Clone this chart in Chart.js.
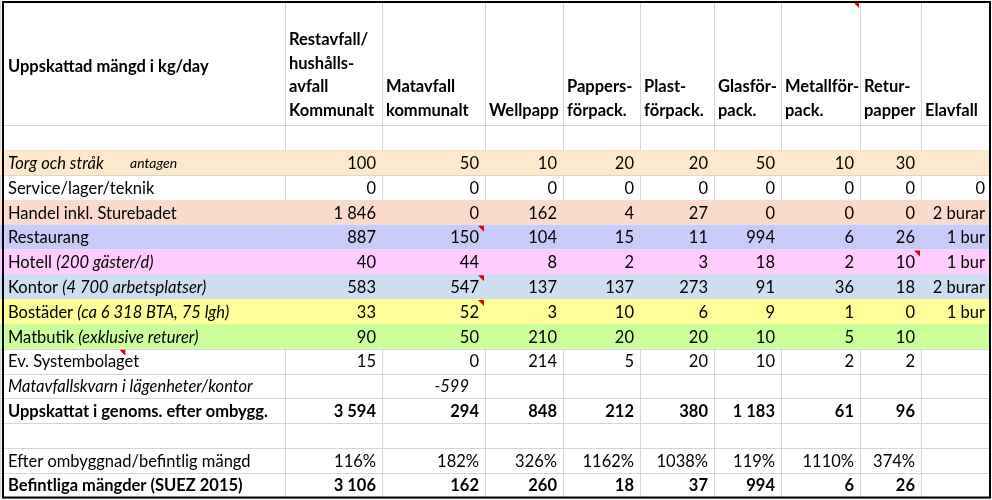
<!DOCTYPE html>
<html><head><meta charset="utf-8">
<script src="https://cdn.jsdelivr.net/npm/chart.js@4/dist/chart.umd.min.js"></script>
<style>html,body{margin:0;padding:0;background:#fff}</style>
</head><body>
<canvas id="c" width="992" height="500"></canvas>
<script>
// ---- data ----
const headerTitle = "Uppskattad mängd i kg/day";
const columns = [
  ["Restavfall/","hushålls-","avfall","Kommunalt"],
  ["Matavfall","kommunalt"],
  ["Wellpapp"],
  ["Pappers-","förpack."],
  ["Plast-","förpack."],
  ["Glasför-","pack."],
  ["Metallför-","pack."],
  ["Retur-","papper"],
  ["Elavfall"]
];
const rowLabels = [
  "", "Torg och stråk", "Service/lager/teknik", "Handel inkl. Sturebadet", "Restaurang",
  "Hotell", "Kontor", "Bostäder", "Matbutik", "Ev. Systembolaget",
  "Matavfallskvarn i lägenheter/kontor", "Uppskattat i genoms. efter ombygg.", "",
  "Efter ombyggnad/befintlig mängd", "Befintliga mängder (SUEZ 2015)"
];
const rowNotes = ["", "antagen", "", "", "", "(200 gäster/d)", "(4 700 arbetsplatser)",
  "(ca 6 318 BTA, 75 lgh)", "(exklusive returer)", "", "", "", "", "", ""];
const restavfall = [null,100,0,1846,887,40,583,33,90,15,null,3594,null,116,3106];
const matavfall  = [null,50,0,0,150,44,547,52,50,0,-599,294,null,182,162];
const wellpapp   = [null,10,0,162,104,8,137,3,210,214,null,848,null,326,260];
const papper     = [null,20,0,4,15,2,137,10,20,5,null,212,null,1162,18];
const plast      = [null,20,0,27,11,3,273,6,20,20,null,380,null,1038,37];
const glas       = [null,50,0,0,994,18,91,9,10,10,null,1183,null,119,994];
const metall     = [null,10,0,0,6,2,36,1,5,2,null,61,null,1110,6];
const retur      = [null,30,0,0,26,10,18,0,10,2,null,96,null,374,26];
const elavfall   = ["", "", "0", "2 burar", "1 bur", "1 bur", "2 burar", "1 bur", "", "", "", "", "", "", ""];
const percentRows = [13];
const boldRows = [11,14];
const italicRows = [1,10];
const rowColors = [null,"#FCE9CC",null,"#FADBCB","#C8CAF8","#FFCCFF","#CFDDF0","#FFFF99","#CCFF99",null,null,null,null,null,null];
const comments = [[4,2],[5,8],[6,2],[7,2],[9,0.44]];

// ---- layout ----
const colEdges = [0,285,382,485,563,640,714,781,860,921,990];
const yMin = -5.56, yMax = 14.6;
const headerTop = -5.52;
const FONT = "Lato, 'Liberation Sans', sans-serif";
const FS = "16.5px ";
const valueCols = [restavfall,matavfall,wellpapp,papper,plast,glas,metall,retur];

function fmt(v, pct){
  if (v===null) return "";
  if (pct) return v+"%";
  let s = Math.abs(v).toString().replace(/\B(?=(\d{3})+(?!\d))/g, " ");
  return v<0 ? "-"+s : s;
}

const tablePlugin = {
  id:'table',
  afterDraw(chart){
    const ctx = chart.ctx, xs = chart.scales.x, ys = chart.scales.y;
    const X = v=>xs.getPixelForValue(v), Y = v=>ys.getPixelForValue(v);
    const nRows = rowLabels.length;
    ctx.save();
    ctx.strokeStyle="#d4d4d4"; ctx.lineWidth=1;
    colEdges.forEach(e=>{ctx.beginPath();ctx.moveTo(Math.round(X(e))+0.5,Y(headerTop));ctx.lineTo(Math.round(X(e))+0.5,Y(nRows-0.5));ctx.stroke();});
    for(let r=-0.5;r<=nRows-0.5;r++){ctx.beginPath();ctx.moveTo(X(0),Math.round(Y(r))+0.5);ctx.lineTo(X(990),Math.round(Y(r))+0.5);ctx.stroke();}
    rowColors.forEach((c,r)=>{ if(!c) return; ctx.fillStyle=c;
      ctx.fillRect(X(0),Y(r-0.5),X(990)-X(0),Y(r+0.5)-Y(r-0.5)); });
    ctx.fillStyle="#000"; ctx.textBaseline="middle";
    ctx.font="bold "+FS+FONT; ctx.textAlign="left";
    ctx.fillText(headerTitle, X(8), 67);
    const lh = 23.7;
    columns.forEach((lines,i)=>{
      lines.forEach((t,j)=>{
        const y = Y(-1.1) + (j-(lines.length-1))*lh;
        ctx.fillText(t, X(colEdges[i+1])+4, y);
      });
    });
    for(let r=0;r<nRows;r++){
      const y=Y(r)+1;
      const bold=boldRows.includes(r), it=italicRows.includes(r);
      const base=(it?"italic ":"")+(bold?"bold ":"")+FS+FONT;
      ctx.font=base; ctx.textAlign="left";
      ctx.fillText(rowLabels[r], X(8), y);
      if(rowNotes[r]){
        const w=ctx.measureText(rowLabels[r]+" ").width;
        if(r===1){ ctx.font="italic 14px "+FONT; ctx.fillText(rowNotes[r], X(130), y); }
        else { ctx.font="italic "+FS+FONT; ctx.fillText(rowNotes[r], X(8)+w, y); }
      }
      ctx.textAlign="right";
      const pct=percentRows.includes(r);
      valueCols.forEach((arr,i)=>{
        const pad = (r===10)?16:6;
        ctx.font=((r===10)?"italic ":"")+(bold?"bold ":"")+FS+FONT;
        ctx.fillText(fmt(arr[r],pct), X(colEdges[i+2])-pad, y);
      });
      ctx.font=FS+FONT;
      ctx.fillText(elavfall[r], X(colEdges[10])-5, y);
    }
    ctx.fillStyle="#e00000";
    const tri=(x,y)=>{ctx.beginPath();ctx.moveTo(x-6,y);ctx.lineTo(x,y);ctx.lineTo(x,y+6);ctx.fill();};
    comments.forEach(([r,c])=>{
      const x = Number.isInteger(c)? X(colEdges[c+1])-1 : X(colEdges[1]*c);
      tri(x, Y(r-0.5)+1);
    });
    tri(X(colEdges[8])-1, Y(headerTop)+1);
    ctx.strokeStyle="#000"; ctx.lineWidth=2;
    ctx.strokeRect(X(3),Y(headerTop)+1,X(990)-X(3),Y(nRows-0.5)-Y(headerTop)-1);
    ctx.restore();
  }
};

new Chart(document.getElementById('c'),{
  type:'scatter',
  data:{datasets:[{data:[],pointRadius:0}]},
  options:{
    responsive:false, animation:false,
    layout:{padding:0},
    plugins:{legend:{display:false},tooltip:{enabled:false}},
    scales:{
      x:{type:'linear',min:0,max:992,display:false},
      y:{type:'linear',min:yMin,max:yMax,reverse:true,display:false}
    }
  },
  plugins:[tablePlugin]
});
</script>
</body></html>
